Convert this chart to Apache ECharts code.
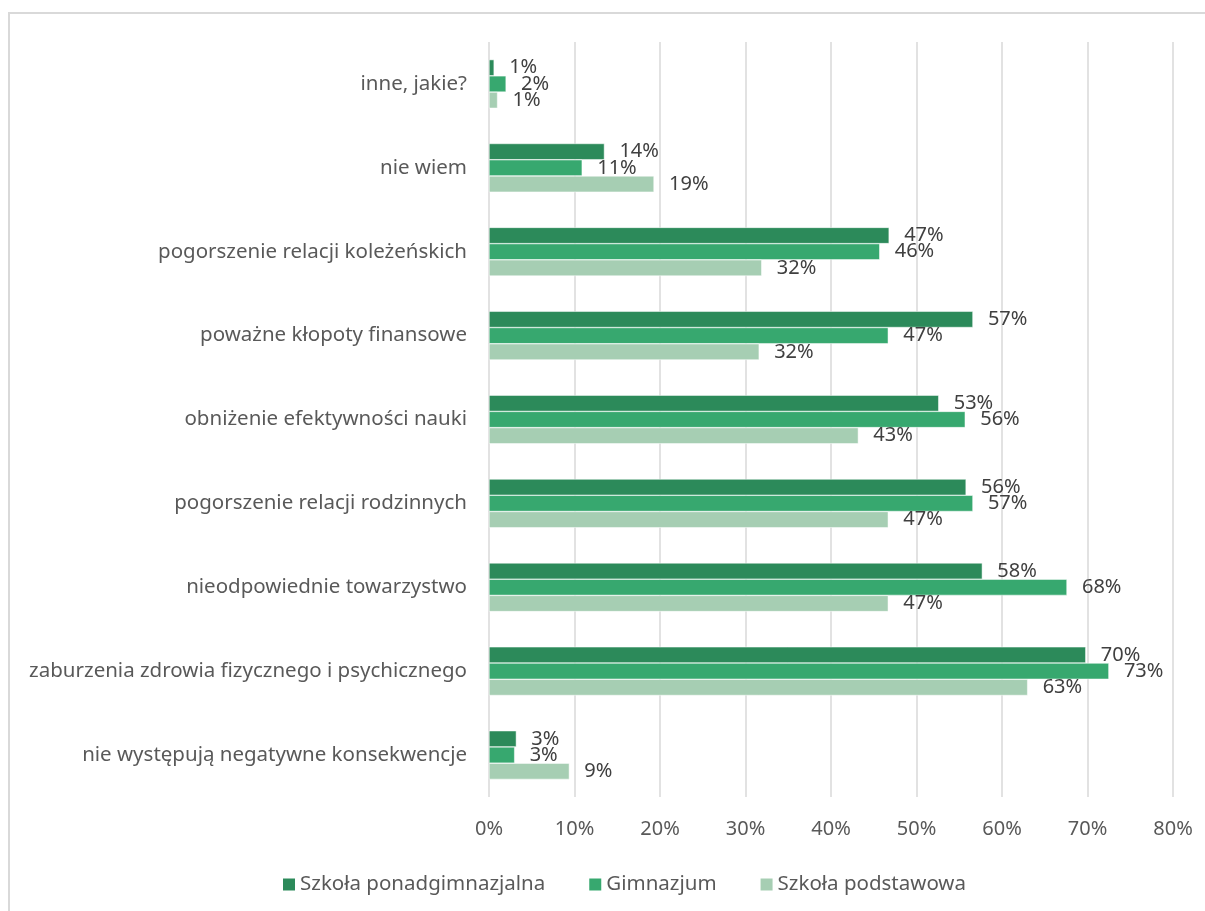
<!DOCTYPE html>
<html>
<head>
<meta charset="utf-8">
<script src="https://cdn.jsdelivr.net/npm/echarts@6/dist/echarts.min.js"></script>
<style>
  html, body { margin: 0; padding: 0; background: #fff; }
  #chart { width: 1205px; height: 911px; }
</style>
</head>
<body>
<div id="chart"></div>
<script>
// categories, top to bottom as in the picture
var categories = [
    'inne, jakie?',
    'nie wiem',
    'pogorszenie relacji koleżeńskich',
    'poważne kłopoty finansowe',
    'obniżenie efektywności nauki',
    'pogorszenie relacji rodzinnych',
    'nieodpowiednie towarzystwo',
    'zaburzenia zdrowia fizycznego i psychicznego',
    'nie występują negatywne konsekwencje'
];
var seriesNames = ['Szkoła ponadgimnazjalna', 'Gimnazjum', 'Szkoła podstawowa'];

// values in percent
var ponadgimnazjalna = [0.6, 13.5, 46.8, 56.6, 52.6, 55.8, 57.7, 69.8, 3.2];
var gimnazjum = [2.0, 10.9, 45.7, 46.7, 55.7, 56.6, 67.6, 72.5, 3.0];
var podstawowa = [1.0, 19.3, 31.9, 31.6, 43.2, 46.7, 46.7, 63.0, 9.4];

var xTicks = [0, 10, 20, 30, 40, 50, 60, 70, 80];

var colors = ['#2c8a5a', '#37a86f', '#a6ceb3'];
var font = 'Noto Sans';

function makeSeries(name, data, color) {
    return {
        name: name,
        type: 'bar',
        data: data,
        barGap: '0%',
        barCategoryGap: '42%',
        itemStyle: { color: color, borderColor: '#fff', borderWidth: 0.5 },
        label: {
            show: true,
            position: 'right',
            distance: 15,
            color: '#404040',
            fontFamily: font,
            fontSize: 20,
            formatter: function (p) { return Math.round(p.value) + '%'; }
        }
    };
}

var myChart = echarts.init(document.getElementById('chart'));
var option = {
    backgroundColor: '#fff',
    animation: false,
    graphic: [{
        type: 'rect',
        shape: { x: 9, y: 13, width: 1210, height: 920 },
        style: { fill: 'none', stroke: '#d9d9d9', lineWidth: 2 }
    }],
    grid: { left: 489, top: 42, width: 684, height: 755 },
    legend: {
        top: 869,
        left: 276,
        itemWidth: 14,
        itemHeight: 14,
        itemGap: 42,
        icon: 'rect',
        textStyle: { color: '#595959', fontFamily: font, fontSize: 20.5, padding: [0, 0, 0, -1] },
        data: seriesNames
    },
    xAxis: {
        type: 'value',
        min: xTicks[0],
        max: xTicks[xTicks.length - 1],
        interval: 10,
        axisLine: { show: false },
        axisTick: { show: false },
        splitLine: { lineStyle: { color: '#d9d9d9', width: 1.5 } },
        axisLabel: {
            color: '#595959',
            fontFamily: font,
            fontSize: 20,
            margin: 22,
            formatter: '{value}%'
        }
    },
    yAxis: {
        type: 'category',
        inverse: true,
        data: categories,
        axisLine: { show: false },
        axisTick: { show: false },
        axisLabel: {
            color: '#595959',
            fontFamily: font,
            fontSize: 20.5,
            margin: 22
        }
    },
    series: [
        makeSeries(seriesNames[0], ponadgimnazjalna, colors[0]),
        makeSeries(seriesNames[1], gimnazjum, colors[1]),
        makeSeries(seriesNames[2], podstawowa, colors[2])
    ]
};
myChart.setOption(option);
</script>
</body>
</html>
